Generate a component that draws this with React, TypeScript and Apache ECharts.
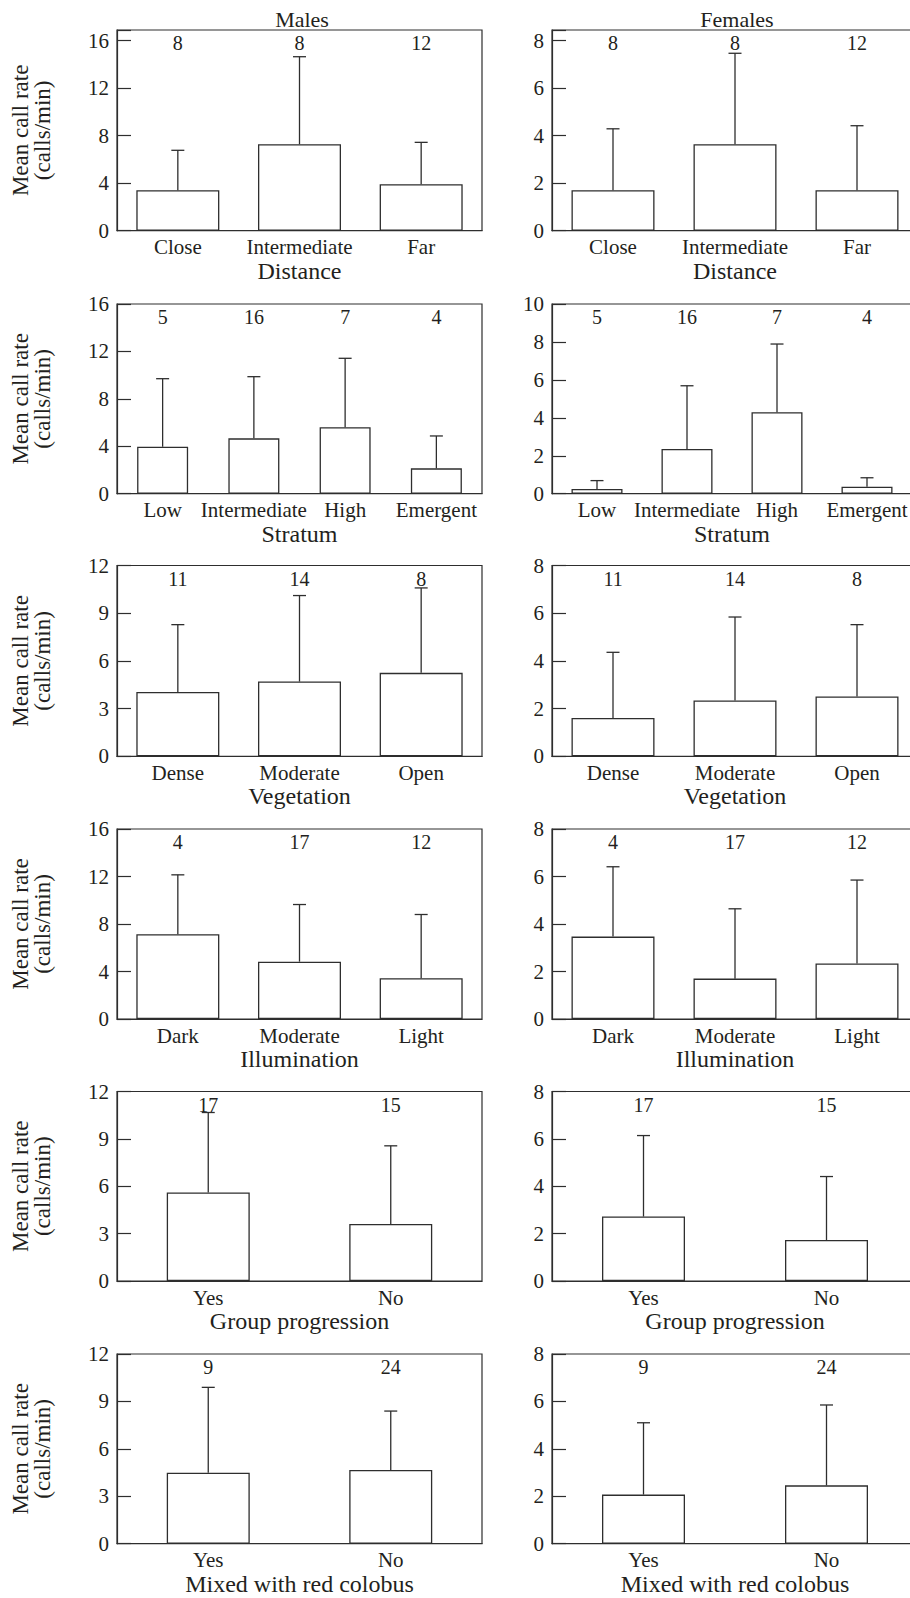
import { useEffect, useRef } from 'react';
import * as echarts from 'echarts';

// ---------- data ----------
const distanceCats = ['Close', 'Intermediate', 'Far'];
const stratumCats = ['Low', 'Intermediate', 'High', 'Emergent'];
const vegetationCats = ['Dense', 'Moderate', 'Open'];
const illuminationCats = ['Dark', 'Moderate', 'Light'];
const progressionCats = ['Yes', 'No'];
const colobusCats = ['Yes', 'No'];

const distanceN = [8, 8, 12];
const stratumN = [5, 16, 7, 4];
const vegetationN = [11, 14, 8];
const illuminationN = [4, 17, 12];
const progressionN = [17, 15];
const colobusN = [9, 24];

// means and upper ends of error bars (calls/min)
const maleDistanceMean = [3.4, 7.28, 3.91];
const maleDistanceUpper = [6.77, 14.65, 7.44];
const femaleDistanceMean = [1.7, 3.64, 1.7];
const femaleDistanceUpper = [4.29, 7.47, 4.42];

const maleStratumMean = [3.96, 4.67, 5.6, 2.14];
const maleStratumUpper = [9.7, 9.87, 11.42, 4.87];
const femaleStratumMean = [0.25, 2.36, 4.29, 0.37];
const femaleStratumUpper = [0.69, 5.69, 7.89, 0.84];

const maleVegetationMean = [4.04, 4.7, 5.25];
const maleVegetationUpper = [8.28, 10.11, 10.59];
const femaleVegetationMean = [1.61, 2.34, 2.51];
const femaleVegetationUpper = [4.36, 5.84, 5.52];

const maleIlluminationMean = [7.14, 4.83, 3.43];
const maleIlluminationUpper = [12.14, 9.64, 8.8];
const femaleIlluminationMean = [3.47, 1.7, 2.34];
const femaleIlluminationUpper = [6.41, 4.64, 5.85];

const maleProgressionMean = [5.6, 3.61];
const maleProgressionUpper = [10.67, 8.56];
const femaleProgressionMean = [2.72, 1.73];
const femaleProgressionUpper = [6.14, 4.41];

const maleColobusMean = [4.49, 4.66];
const maleColobusUpper = [9.89, 8.39];
const femaleColobusMean = [2.07, 2.46];
const femaleColobusUpper = [5.1, 5.85];

const rowTitles = ['Distance', 'Stratum', 'Vegetation', 'Illumination', 'Group progression', 'Mixed with red colobus'];
const maleAxisMax = [16.9, 16, 12, 16, 12, 12];
const maleAxisInterval = [4, 4, 3, 4, 3, 3];
const femaleAxisMax = [8.45, 10, 8, 8, 8, 8];
const femaleAxisInterval = [2, 2, 2, 2, 2, 2];

const columnTitles = ['Males', 'Females'];
const yAxisTitle = 'Mean call rate\n(calls/min)';

// ---------- layout (not data) ----------
const rowTop = [30, 304, 565.5, 829, 1091.5, 1354];
const rowHeight = [200.7, 189.7, 190.8, 190, 189.5, 189.7];
const colLeft = [117, 552];
const maleWidth = [365, 365, 365, 365, 365, 365];
const femaleWidth = [366, 360, 366, 366, 366, 366];
const titleX = [302, 737];

const FONT = 'Liberation Serif';
const TEXT = '#231f20';
const LINE = '#2e2e2e';

const rows = [
  { cats: distanceCats, n: distanceN, m: [maleDistanceMean, femaleDistanceMean], u: [maleDistanceUpper, femaleDistanceUpper] },
  { cats: stratumCats, n: stratumN, m: [maleStratumMean, femaleStratumMean], u: [maleStratumUpper, femaleStratumUpper] },
  { cats: vegetationCats, n: vegetationN, m: [maleVegetationMean, femaleVegetationMean], u: [maleVegetationUpper, femaleVegetationUpper] },
  { cats: illuminationCats, n: illuminationN, m: [maleIlluminationMean, femaleIlluminationMean], u: [maleIlluminationUpper, femaleIlluminationUpper] },
  { cats: progressionCats, n: progressionN, m: [maleProgressionMean, femaleProgressionMean], u: [maleProgressionUpper, femaleProgressionUpper] },
  { cats: colobusCats, n: colobusN, m: [maleColobusMean, femaleColobusMean], u: [maleColobusUpper, femaleColobusUpper] },
];

function buildOption() {
  const grid: any[] = [];
  const xAxis: any[] = [];
  const yAxis: any[] = [];
  const series: any[] = [];

  rows.forEach((row, r) => {
    [0, 1].forEach((c) => {
      const idx = r * 2 + c;
      const max = c === 0 ? maleAxisMax[r] : femaleAxisMax[r];
      const interval = c === 0 ? maleAxisInterval[r] : femaleAxisInterval[r];
      grid.push({
        left: colLeft[c],
        width: c === 0 ? maleWidth[r] : femaleWidth[r],
        top: rowTop[r],
        height: rowHeight[r],
        show: true,
        borderColor: LINE,
        borderWidth: 1.2,
        backgroundColor: 'transparent',
        containLabel: false,
        outerBoundsMode: 'none',
      });
      xAxis.push({
        type: 'category',
        gridIndex: idx,
        data: row.cats,
        axisTick: { show: false },
        axisLine: { show: true, lineStyle: { color: LINE, width: 1.2 } },
        axisLabel: { interval: 0, margin: 6, color: TEXT, fontSize: 21, fontFamily: FONT },
        name: rowTitles[r],
        nameLocation: 'middle',
        nameGap: 28,
        nameTextStyle: { color: TEXT, fontSize: 24, fontFamily: FONT },
        splitLine: { show: false },
      });
      yAxis.push({
        type: 'value',
        gridIndex: idx,
        min: 0,
        max,
        interval,
        axisLine: { show: true, lineStyle: { color: LINE, width: 1.2 } },
        axisTick: { show: true, inside: true, length: 14, lineStyle: { color: LINE, width: 1.2 } },
        axisLabel: {
          margin: 8,
          color: TEXT,
          fontSize: 21,
          fontFamily: FONT,
          formatter: (v: number) => (Math.abs(v / interval - Math.round(v / interval)) < 1e-6 ? String(v) : ''),
        },
        splitLine: { show: false },
        name: c === 0 ? yAxisTitle : '',
        nameLocation: 'middle',
        nameRotate: 90,
        nameGap: 64,
        nameTextStyle: { color: TEXT, fontSize: 23, lineHeight: 22, fontFamily: FONT },
      });

      const means = row.m[c];
      const uppers = row.u[c];
      series.push({
        type: 'bar',
        xAxisIndex: idx,
        yAxisIndex: idx,
        data: means,
        barWidth: row.cats.length === 4 ? 51 : 83,
        itemStyle: { color: '#ffffff', borderColor: LINE, borderWidth: 1.3 },
        z: 2,
      });
      series.push({
        type: 'custom',
        xAxisIndex: idx,
        yAxisIndex: idx,
        data: means.map((v, i) => [i, v, uppers[i]]),
        encode: { x: 0, y: [1, 2] },
        z: 3,
        renderItem: (params: any, api: any) => {
          const x = api.value(0);
          const p0 = api.coord([x, api.value(1)]);
          const p1 = api.coord([x, api.value(2)]);
          const style = { stroke: LINE, lineWidth: 1.3 };
          return {
            type: 'group',
            children: [
              { type: 'line', shape: { x1: p0[0], y1: p0[1], x2: p1[0], y2: p1[1] }, style },
              { type: 'line', shape: { x1: p1[0] - 6.5, y1: p1[1], x2: p1[0] + 6.5, y2: p1[1] }, style },
            ],
          };
        },
      });
      series.push({
        type: 'scatter',
        xAxisIndex: idx,
        yAxisIndex: idx,
        symbolSize: 0,
        itemStyle: { opacity: 1 },
        data: row.n.map((n, i) => ({ value: [i, max], n })),
        label: {
          show: true,
          position: 'inside',
          offset: [0, 13],
          formatter: (p: any) => String(p.data.n),
          color: TEXT,
          opacity: 1,
          fontSize: 20,
          fontFamily: FONT,
        },
        z: 4,
        silent: true,
      });
    });
  });

  const graphic = columnTitles.map((t, c) => ({
    type: 'text',
    x: titleX[c],
    y: 19,
    style: { text: t, fill: TEXT, fontSize: 22, fontFamily: FONT, align: 'center', verticalAlign: 'middle' },
  }));

  return {
    animation: false,
    backgroundColor: '#ffffff',
    textStyle: { fontFamily: FONT },
    grid,
    xAxis,
    yAxis,
    series,
    graphic,
  };
}

export default function App() {
  const ref = useRef<HTMLDivElement>(null);
  useEffect(() => {
    if (!ref.current) return;
    const chart = echarts.init(ref.current, undefined, { renderer: 'svg' });
    chart.setOption(buildOption() as any);
    return () => chart.dispose();
  }, []);
  return (
    <div
      ref={ref}
      style={{ position: 'absolute', left: 0, top: 0, width: 910, height: 1598, background: '#fff' }}
    />
  );
}
